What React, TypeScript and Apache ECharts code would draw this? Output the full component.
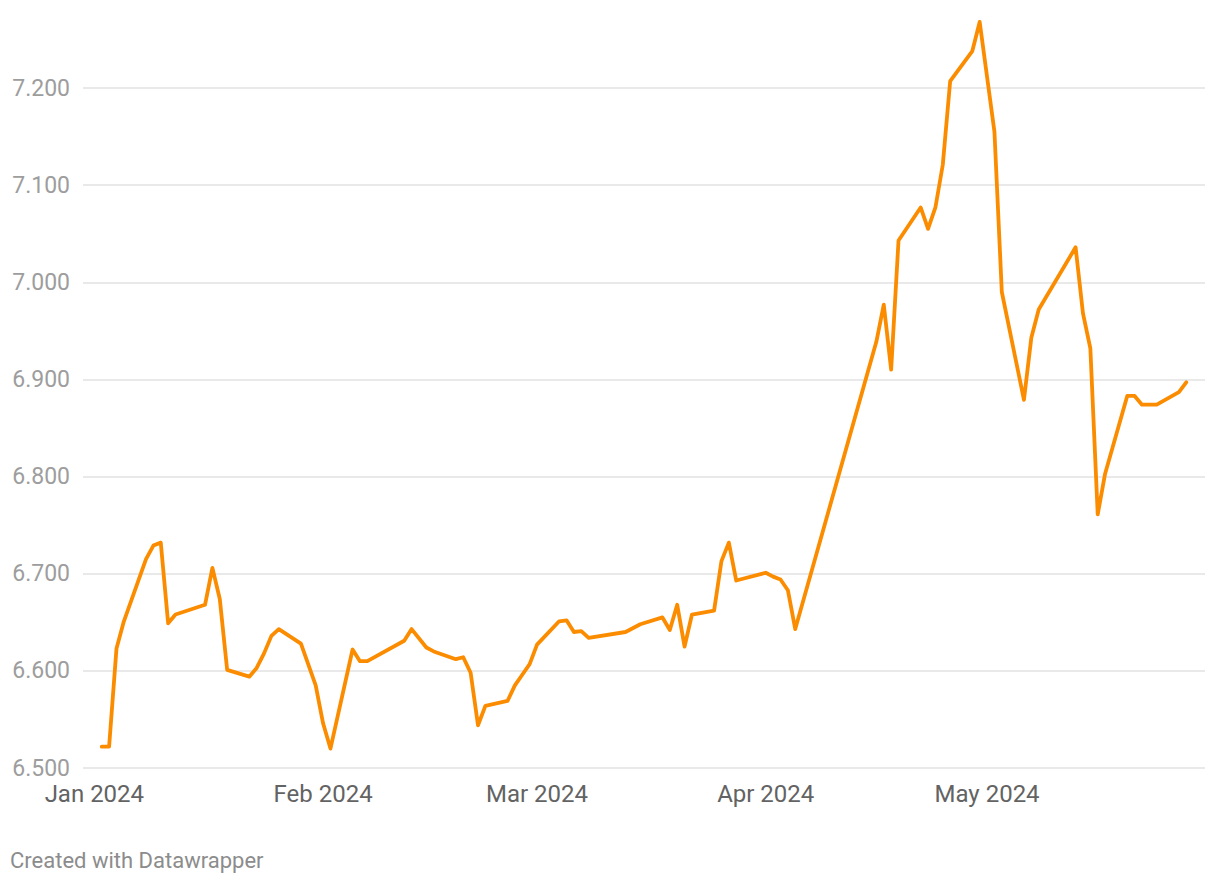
import React, { useEffect, useRef } from "react";
import * as echarts from "echarts";

const dates: string[] = [
  "2024-01-02", "2024-01-03", "2024-01-04", "2024-01-05", "2024-01-08", "2024-01-09", "2024-01-10",
  "2024-01-11", "2024-01-12", "2024-01-16", "2024-01-17", "2024-01-18", "2024-01-19", "2024-01-22",
  "2024-01-23", "2024-01-24", "2024-01-25", "2024-01-26", "2024-01-29", "2024-01-31", "2024-02-01",
  "2024-02-02", "2024-02-05", "2024-02-06", "2024-02-07", "2024-02-12", "2024-02-13", "2024-02-15",
  "2024-02-16", "2024-02-19", "2024-02-20", "2024-02-21", "2024-02-22", "2024-02-23", "2024-02-26",
  "2024-02-27", "2024-02-28", "2024-02-29", "2024-03-01", "2024-03-04", "2024-03-05", "2024-03-06",
  "2024-03-07", "2024-03-08", "2024-03-13", "2024-03-15", "2024-03-18", "2024-03-19", "2024-03-20",
  "2024-03-21", "2024-03-22", "2024-03-25", "2024-03-26", "2024-03-27", "2024-03-28", "2024-04-01",
  "2024-04-02", "2024-04-03", "2024-04-04", "2024-04-05", "2024-04-16", "2024-04-17", "2024-04-18",
  "2024-04-19", "2024-04-22", "2024-04-23", "2024-04-24", "2024-04-25", "2024-04-26", "2024-04-29",
  "2024-04-30", "2024-05-02", "2024-05-03", "2024-05-06", "2024-05-07", "2024-05-08", "2024-05-13",
  "2024-05-14", "2024-05-15", "2024-05-16", "2024-05-17", "2024-05-20", "2024-05-21", "2024-05-22",
  "2024-05-24", "2024-05-27", "2024-05-28",
];

const values: number[] = [
  6.522, 6.522, 6.623, 6.651, 6.715, 6.729, 6.732,
  6.649, 6.658, 6.668, 6.706, 6.674, 6.601, 6.594,
  6.603, 6.618, 6.636, 6.643, 6.628, 6.585, 6.546,
  6.52, 6.622, 6.61, 6.61, 6.631, 6.643, 6.624,
  6.62, 6.612, 6.614, 6.598, 6.544, 6.564, 6.569,
  6.585, 6.596, 6.607, 6.627, 6.651, 6.652, 6.64,
  6.641, 6.634, 6.64, 6.648, 6.655, 6.642, 6.668,
  6.625, 6.658, 6.662, 6.713, 6.732, 6.693, 6.701,
  6.697, 6.694, 6.683, 6.643, 6.939, 6.977, 6.91,
  7.043, 7.077, 7.055, 7.077, 7.121, 7.207, 7.238,
  7.268, 7.155, 6.99, 6.879, 6.943, 6.972, 7.036,
  6.968, 6.932, 6.761, 6.803, 6.883, 6.883, 6.874,
  6.874, 6.887, 6.897,
];

const monthNames: string[] = ["Jan", "Feb", "Mar", "Apr", "May", "Jun", "Jul", "Aug", "Sep", "Oct", "Nov", "Dec"];

const yMin = 6.5;
const yMax = 7.2;
const yStep = 0.1;

function toTime(s: string): number {
  const [y, m, d] = s.split("-").map(Number);
  return new Date(y, m - 1, d).getTime();
}

const DAY = 86400000;

export default function App() {
  const ref = useRef<HTMLDivElement>(null);

  useEffect(() => {
    if (!ref.current) return;
    const chart = echarts.init(ref.current, null, { renderer: "svg" });
    const pts = dates.map((d, i) => [toTime(d), values[i]]);
    const first = toTime(dates[0]);
    const last = toTime(dates[dates.length - 1]);
    chart.setOption({
      animation: false,
      backgroundColor: "#ffffff",
      textStyle: { fontFamily: "Roboto" },
      grid: { left: 83, right: 15, top: 88, bottom: 116, containLabel: false },
      xAxis: {
        type: "time",
        min: first - 2.54 * DAY,
        max: last + 2.54 * DAY,
        splitNumber: 6,
        axisLine: { show: false },
        axisTick: { show: false },
        splitLine: { show: false },
        axisLabel: {
          show: true,
          color: "#636363",
          fontSize: 24,
          fontFamily: "Roboto",
          margin: 14,
          hideOverlap: false,
          showMinLabel: false,
          showMaxLabel: false,
          formatter: (v: number) => {
            const d = new Date(v);
            if (d.getDate() !== 1 || d.getHours() !== 0) return "";
            return monthNames[d.getMonth()] + " " + d.getFullYear();
          },
        },
      },
      yAxis: {
        type: "value",
        min: yMin,
        max: yMax,
        interval: yStep,
        axisLine: { show: false },
        axisTick: { show: false },
        axisLabel: {
          color: "#9d9d9d",
          fontSize: 23,
          fontFamily: "Roboto",
          margin: 13,
          formatter: (v: number) => v.toFixed(3),
        },
        splitLine: { show: true, lineStyle: { color: "#e2e2e2", width: 1.5 } },
      },
      series: [
        {
          type: "line",
          data: pts,
          showSymbol: false,
          symbol: "none",
          clip: false,
          lineStyle: { color: "#fb8c00", width: 3.8, join: "round", cap: "round" },
        },
      ],
      graphic: [
        {
          type: "text",
          left: 10,
          top: 849,
          style: {
            text: "Created with Datawrapper",
            fontSize: 22,
            fontFamily: "Roboto",
            fill: "#8c8c8c",
          },
        },
      ],
    });
    return () => chart.dispose();
  }, []);

  return (
    <div
      ref={ref}
      style={{ position: "absolute", left: 0, top: 0, width: 1220, height: 884 }}
    />
  );
}
